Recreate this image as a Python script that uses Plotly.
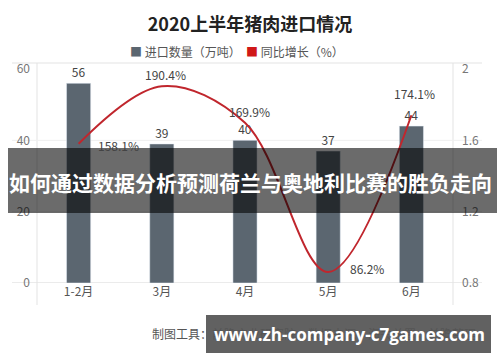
import plotly.graph_objects as go

# ---- data ----
months = ["1-2月", "3月", "4月", "5月", "6月"]
import_volume = [56, 39, 40, 37, 44]            # 进口数量（万吨）
yoy_growth = [1.581, 1.904, 1.699, 0.862, 1.741]  # 同比增长 (ratio)
yoy_labels = ["158.1%", "190.4%", "169.9%", "86.2%", "174.1%"]
left_ticks = [0, 20, 40, 60]
right_ticks = [0.8, 1.2, 1.6, 2.0]
right_ticktext = ["0.8", "1.2", "1.6", "2"]
series_names = ["进口数量（万吨）", "同比增长（%）"]

FONT = "Noto Sans CJK SC"
BAR_COLOR = "#5b6670"
LINE_COLOR = "#c0262d"
LEGEND_RED = "#d01818"

W, H = 500, 362
L, R, T, B = 37, 47, 63, 79
PW, PH = W - L - R, H - T - B


def px(x):
    return (x - L) / PW


def py(y):
    return (H - B - y) / PH


fig = go.Figure()
fig.add_trace(go.Bar(
    x=months, y=import_volume, width=0.29, marker_color=BAR_COLOR,
    name=series_names[0],
    text=[str(v) for v in import_volume], textposition="outside",
    textfont=dict(size=12, color="#444", family=FONT), cliponaxis=False,
    showlegend=False, hoverinfo="skip",
))
fig.add_trace(go.Scatter(
    x=months, y=yoy_growth, yaxis="y2", mode="lines", name=series_names[1],
    line=dict(color=LINE_COLOR, width=2, shape="spline", smoothing=1),
    showlegend=False, hoverinfo="skip",
))

# line value labels
label_style = [  # (xanchor, xshift, yshift)
    ("left", 17, -2),
    ("center", 4, 12),
    ("center", 4, 11),
    ("left", 20, 3),
    ("center", 3, 22),
]
annotations = []
for m, v, t, (xa, xs, ys) in zip(months, yoy_growth, yoy_labels, label_style):
    annotations.append(dict(x=m, y=v, xref="x", yref="y2", text=t, showarrow=False,
                            xanchor=xa, yanchor="middle", xshift=xs, yshift=ys,
                            font=dict(size=12, color="#444", family=FONT)))

# legend (square swatches + names)
legend_text = (f'<span style="color:{BAR_COLOR}">■</span> {series_names[0]}  '
               f'<span style="color:{LEGEND_RED}">■</span> {series_names[1]}')
annotations.append(dict(x=px(237), y=py(52), xref="paper", yref="paper", text=legend_text,
                        showarrow=False, xanchor="center", yanchor="middle",
                        font=dict(size=12, color="#555", family=FONT)))

# source line (partly hidden)
annotations.append(dict(x=px(150), y=py(333), xref="paper", yref="paper",
                        text="制图工具：前瞻产业研究院，数据来源：海关总署，前瞻整理",
                        showarrow=False, xanchor="left", yanchor="middle",
                        font=dict(size=12, color="#555", family=FONT)))

# overlay banners text
annotations.append(dict(x=px(251), y=py(182), xref="paper", yref="paper",
                        text="<b>如何通过数据分析预测荷兰与奥地利比赛的胜负走向</b>",
                        showarrow=False, xanchor="center", yanchor="middle",
                        font=dict(size=21, color="white", family=FONT)))
annotations.append(dict(x=px(349), y=py(334), xref="paper", yref="paper",
                        text="<b>www.zh-company-c7games.com</b>",
                        showarrow=False, xanchor="center", yanchor="middle",
                        font=dict(size=17, color="white", family="Open Sans")))

grid = "#e3e3e3"
shapes = [
    dict(type="line", xref="paper", yref="paper", x0=px(12), x1=px(482), y0=1, y1=1,
         line=dict(color=grid, width=1), layer="below"),
    dict(type="line", xref="paper", yref="y", x0=px(12), x1=px(482), y0=0, y1=0,
         line=dict(color="#d6d6d6", width=1), layer="below"),
    dict(type="line", xref="paper", yref="paper", x0=0, x1=0, y0=1, y1=py(305),
         line=dict(color=grid, width=1), layer="below"),
    dict(type="line", xref="paper", yref="paper", x0=1, x1=1, y0=1, y1=py(305),
         line=dict(color=grid, width=1), layer="below"),
]
for v in left_ticks[1:3]:
    shapes.append(dict(type="line", xref="paper", yref="y", x0=px(12), x1=px(482), y0=v, y1=v,
                       line=dict(color="#efefef", width=1), layer="below"))
shapes.append(dict(type="rect", xref="paper", yref="paper", x0=px(8), x1=px(497),
                   y0=py(213), y1=py(148), fillcolor="rgba(0,0,0,0.58)", line_width=0,
                   layer="above"))
shapes.append(dict(type="rect", xref="paper", yref="paper", x0=px(206), x1=px(491),
                   y0=py(353), y1=py(315), fillcolor="rgba(0,0,0,0.62)", line_width=0,
                   layer="above"))

fig.update_layout(
    width=W, height=H,
    margin=dict(l=L, r=R, t=T, b=B, pad=0, autoexpand=False),
    paper_bgcolor="white", plot_bgcolor="white",
    font=dict(family=FONT, size=12, color="#555"),
    showlegend=False,
    title=dict(text="<b>2020上半年猪肉进口情况</b>", x=0.5, xref="container", xanchor="center",
               y=1 - 25 / H, yref="container", yanchor="middle",
               font=dict(size=18, color="#222", family=FONT)),
    xaxis=dict(type="category", showgrid=False, zeroline=False, showline=False, ticks="",
               tickfont=dict(size=12, color="#555", family=FONT), fixedrange=True),
    yaxis=dict(range=[0, 61.7], tickvals=left_ticks, showgrid=False, zeroline=False,
               showline=False, ticks="", ticklabelstandoff=6,
               tickfont=dict(size=12, color="#777", family=FONT)),
    yaxis2=dict(range=[0.8, 0.8 + 1.2 * 61.7 / 60], overlaying="y", side="right",
                tickvals=right_ticks, ticktext=right_ticktext, showgrid=False,
                zeroline=False, showline=False, ticks="", ticklabelstandoff=8,
                tickfont=dict(size=12, color="#777", family=FONT)),
    shapes=shapes,
    annotations=annotations,
)

fig.write_html("out.html")
